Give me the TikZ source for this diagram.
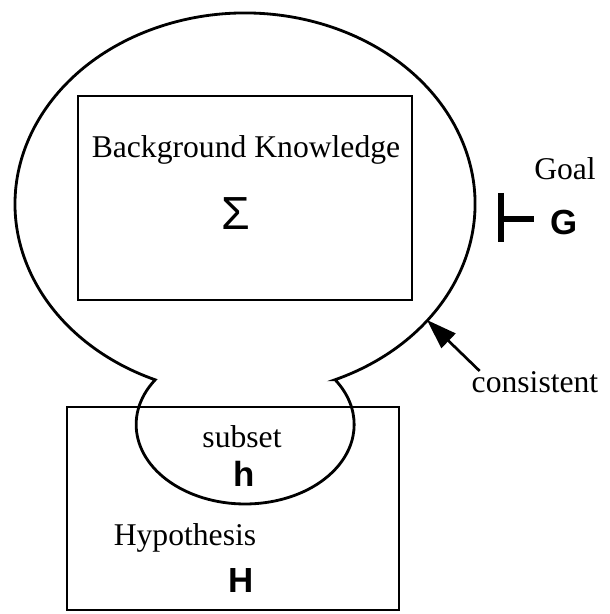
\documentclass[tikz,border=0pt]{standalone}
\usepackage{fontspec}
\setmainfont{Liberation Serif}
\setsansfont{Liberation Sans}
\usetikzlibrary{arrows.meta,calc}
\begin{document}
\begin{tikzpicture}[x=0.025cm, y=0.025cm, line width=1.5pt,
    every node/.style={inner sep=0pt},
    lbl/.style={font=\fontsize{22.5}{27}\selectfont},
    sym/.style={font=\fontsize{24.8}{30}\selectfont\sffamily\bfseries}]
  \useasboundingbox (0,0) rectangle (610,614);
  % boxes
  \node[draw, minimum width=8.35cm, minimum height=5.1cm] (bk) at (245,416) {};
  \node[draw, minimum width=8.3cm, minimum height=5.075cm] (hyp) at (233,105.5) {};
  % outline of the consistent set
  \draw[line width=2pt] (334.9,234.2) arc[start angle=293, end angle=607, x radius=230, y radius=191]
        arc[start angle=145.66, end angle=394.34, x radius=109, y radius=79.4] -- cycle;
  % texts
  \node[lbl, anchor=base] (bktxt) at (246,456) {Background Knowledge};
  \node[font=\fontsize{33}{40}\selectfont\sffamily] (sigma) at (236,400) {Σ};
  \node[lbl, anchor=base] (subset) at (242,166) {subset};
  \node[sym, anchor=base] (hsub) at (244,127) {h};
  \node[lbl, anchor=base] (hyptxt) at (185,68.5) {Hypothesis};
  \node[sym, anchor=base] (hbig) at (241,21.5) {H};
  \node[lbl, anchor=base] (goal) at (565,434) {Goal};
  \node[sym] (goalg) at (564,392) {G};
  \node[lbl, anchor=base] (cons) at (535,221) {consistent};
  % turnstile
  \draw[line width=3.6pt] (501,421) -- (501,372) (501,395) -- (534,395);
  % arrow to the outline
  \coordinate (touch) at (427,294);
  \draw[line width=1.9pt, -{Triangle[length=0.75cm, width=0.5cm]}] ($(cons.north west)+(9,0)$) -- (touch);
\end{tikzpicture}
\end{document}
